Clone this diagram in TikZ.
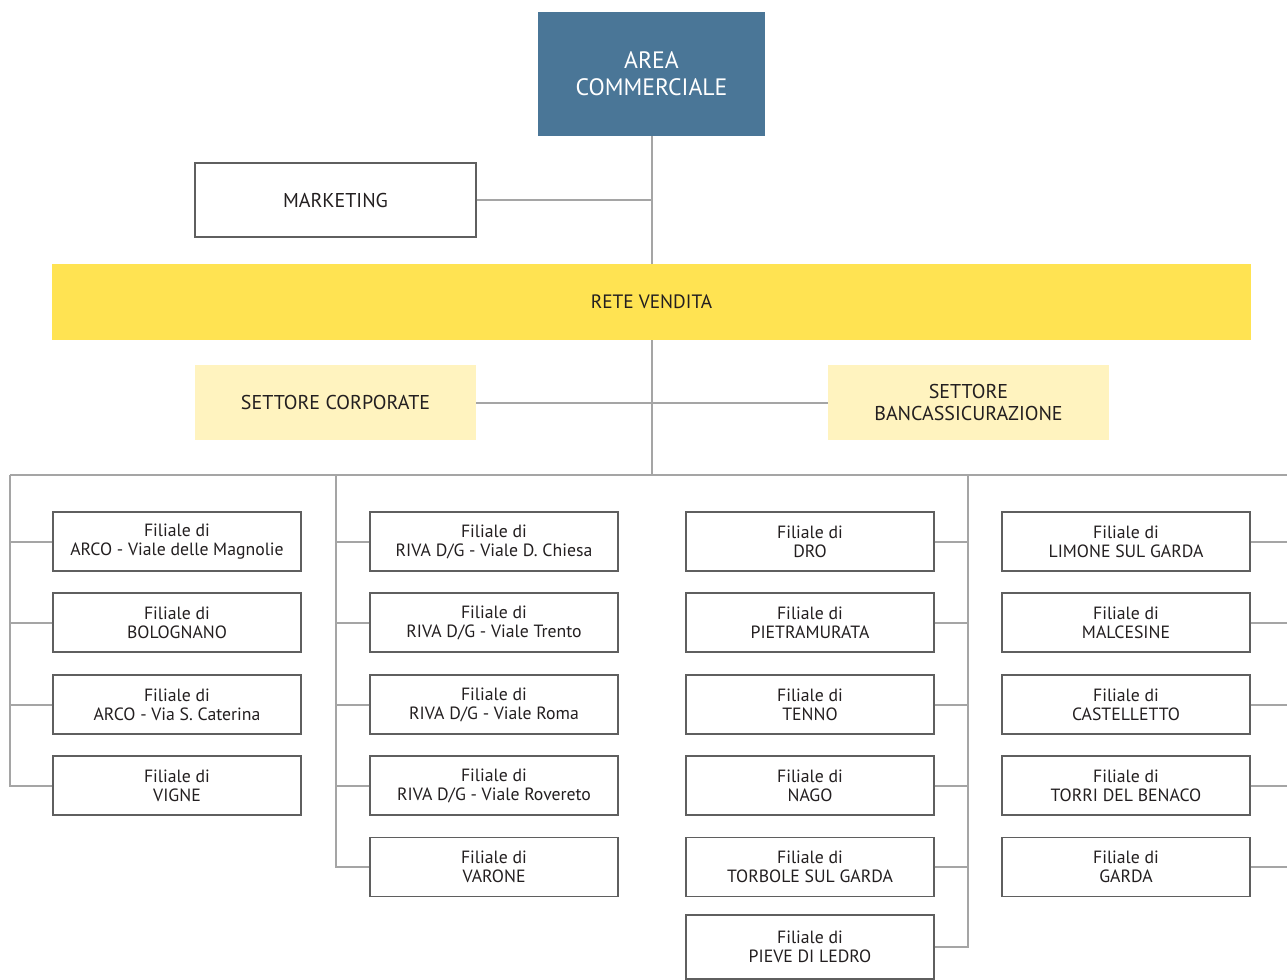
\documentclass[tikz,border=0pt]{standalone}
\usepackage{fontspec}
\setmainfont{PT Sans}
\usetikzlibrary{positioning,calc}

\begin{document}
\begin{tikzpicture}[x=0.75pt,y=-0.75pt,
    filiale/.style={draw=boxgray, line width=0.8pt, fill=white, minimum width=186pt, minimum height=44.25pt,
        align=center, inner sep=0pt, font=\fontsize{13.3}{14.3}\selectfont, text=testo},
    settore/.style={fill=giallochiaro, minimum width=210.75pt, minimum height=56.25pt,
        align=center, inner sep=0pt, font=\fontsize{15}{15.8}\selectfont, text=testo},
    linea/.style={draw=lineagray, line width=1.5pt}]
    % Colori
    \definecolor{blu}{RGB}{74,118,151}
    \definecolor{giallo}{RGB}{255,227,82}
    \definecolor{giallochiaro}{RGB}{255,243,191}
    \definecolor{lineagray}{RGB}{165,165,165}
    \definecolor{boxgray}{RGB}{95,95,95}
    \definecolor{testo}{RGB}{35,31,32}

    \useasboundingbox (0,0) rectangle (1287,979);
    \clip (0,0) rectangle (1287,979);

    % Vertice
    \node[fill=blu, minimum width=170.25pt, minimum height=93pt, align=center, inner sep=0pt,
        text=white, font=\fontsize{17.8}{20.5}\selectfont] (area) at (651.5,74) {AREA\\COMMERCIALE};
    \node[filiale, minimum width=210.75pt, minimum height=55.5pt, font=\fontsize{15}{16}\selectfont]
        (marketing) at (335.5,200) {MARKETING};
    \node[fill=giallo, minimum width=899.25pt, minimum height=57pt, inner sep=0pt,
        font=\fontsize{14.5}{16}\selectfont, text=testo] (rete) at (651.5,302) {RETE VENDITA};

    % Settori
    \node[settore] (corporate) at (335.5,402.5) {SETTORE CORPORATE};
    \node[settore] (bancass) at (968.5,402.5) {SETTORE\\BANCASSICURAZIONE};

    % Punti della linea di distribuzione
    \coordinate (bus1) at (10,475);
    \coordinate (bus2) at (336,475);
    \coordinate (bus3) at (968,475);
    \coordinate (bus4) at (1292,475);

    % Prima colonna
    \node[filiale] (arco1) at (177,541.5) {Filiale di\\ARCO - Viale delle Magnolie};
    \node[filiale] (bolognano) at (177,622.5) {Filiale di\\BOLOGNANO};
    \node[filiale] (arco2) at (177,704.5) {Filiale di\\ARCO - Via S. Caterina};
    \node[filiale] (vigne) at (177,785.5) {Filiale di\\VIGNE};

    % Seconda colonna
    \node[filiale] (riva1) at (494,541.5) {Filiale di\\RIVA D/G - Viale D. Chiesa};
    \node[filiale] (riva2) at (494,622.5) {Filiale di\\RIVA D/G - Viale Trento};
    \node[filiale] (riva3) at (494,704.5) {Filiale di\\RIVA D/G - Viale Roma};
    \node[filiale] (riva4) at (494,785.5) {Filiale di\\RIVA D/G - Viale Rovereto};
    \node[filiale] (varone) at (494,867) {Filiale di\\VARONE};

    % Terza colonna
    \node[filiale] (dro) at (810,541.5) {Filiale di\\DRO};
    \node[filiale] (pietra) at (810,622.5) {Filiale di\\PIETRAMURATA};
    \node[filiale] (tenno) at (810,704.5) {Filiale di\\TENNO};
    \node[filiale] (nago) at (810,785.5) {Filiale di\\NAGO};
    \node[filiale] (torbole) at (810,867) {Filiale di\\TORBOLE SUL GARDA};
    \node[filiale, minimum height=48pt] (pieve) at (810,947) {Filiale di\\PIEVE DI LEDRO};

    % Quarta colonna
    \node[filiale] (limone) at (1126,541.5) {Filiale di\\LIMONE SUL GARDA};
    \node[filiale] (malcesine) at (1126,622.5) {Filiale di\\MALCESINE};
    \node[filiale] (castelletto) at (1126,704.5) {Filiale di\\CASTELLETTO};
    \node[filiale] (torri) at (1126,785.5) {Filiale di\\TORRI DEL BENACO};
    \node[filiale] (garda) at (1126,867) {Filiale di\\GARDA};

    % Collegamenti
    \draw[linea] (area.south) -- (rete.north);
    \draw[linea] (marketing.east) -- (marketing.east -| area.south);
    \draw[linea] (rete.south) -- (rete.south |- bus1);
    \draw[linea] (corporate.east) -- (bancass.west);
    \draw[linea] (bus1) -- (bus4);

    \draw[linea] (bus1) |- (vigne.west);
    \draw[linea] (arco1.west) -- (arco1.west -| bus1)
        (bolognano.west) -- (bolognano.west -| bus1)
        (arco2.west) -- (arco2.west -| bus1);

    \draw[linea] (bus2) |- (varone.west);
    \draw[linea] (riva1.west) -- (riva1.west -| bus2)
        (riva2.west) -- (riva2.west -| bus2)
        (riva3.west) -- (riva3.west -| bus2)
        (riva4.west) -- (riva4.west -| bus2);

    \draw[linea] (bus3) |- (pieve.east);
    \draw[linea] (dro.east) -- (dro.east -| bus3)
        (pietra.east) -- (pietra.east -| bus3)
        (tenno.east) -- (tenno.east -| bus3)
        (nago.east) -- (nago.east -| bus3)
        (torbole.east) -- (torbole.east -| bus3);

    \draw[linea] (bus4) |- (garda.east);
    \draw[linea] (limone.east) -- (limone.east -| bus4)
        (malcesine.east) -- (malcesine.east -| bus4)
        (castelletto.east) -- (castelletto.east -| bus4)
        (torri.east) -- (torri.east -| bus4);
\end{tikzpicture}
\end{document}
